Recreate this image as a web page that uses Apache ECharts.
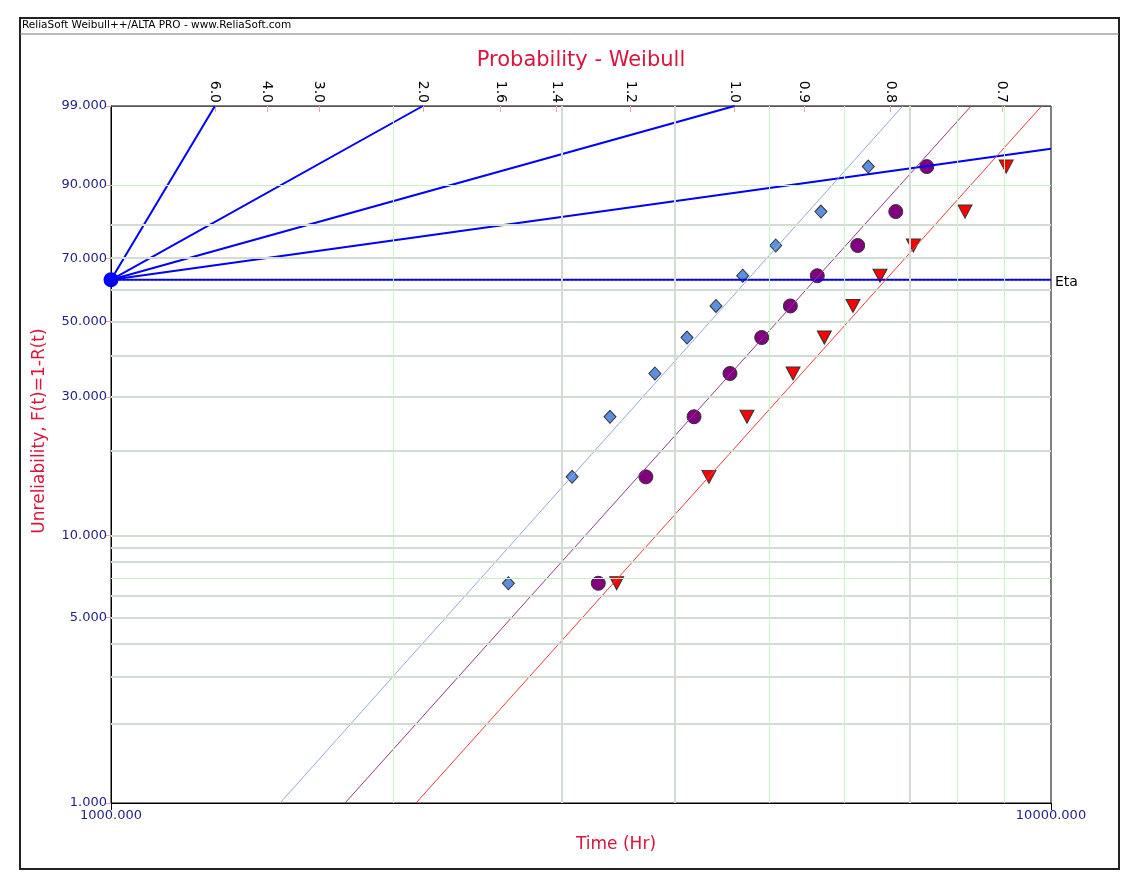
<!DOCTYPE html>
<html>
<head>
<meta charset="utf-8">
<script src="https://cdn.jsdelivr.net/npm/echarts@6/dist/echarts.min.js"></script>
<style>html,body{margin:0;padding:0;background:#fff;}#c{width:1140px;height:890px;}</style>
</head>
<body>
<div id="c"></div>
<script>
// ---- data ----
const probPct = [6.7, 16.2, 25.9, 35.5, 45.2, 54.8, 64.5, 74.1, 83.8, 93.3];
const timesBlue = [2647, 3094, 3395, 3790, 4100, 4401, 4699, 5095, 5692, 6392];
const timesPurple = [3299, 3707, 4171, 4555, 4923, 5281, 5641, 6228, 6837, 7376];
const timesRed = [3451, 4326, 4749, 5316, 5739, 6157, 6578, 7138, 8100, 8960];
// fitted lines: time at F=1% and F=99%
const fitBlue = [1513, 6955];
const fitPurple = [1774, 8222];
const fitRed = [2111, 9775];
// axis ranges / ticks
const timeRange = [1000, 10000];
const probRange = [1, 99];
const probLabels = [1, 5, 10, 30, 50, 70, 90, 99];
const gridProbGray = [2, 3, 4, 5, 6, 8, 9, 10, 20, 30, 40, 50, 60, 70, 80];
const gridProbGreen = [7, 90];
const gridTimeGray = [3000, 4000, 7000];
const gridTimeGreen = [2000, 5000, 6000, 8000, 9000];
const betaTicks = [6.0, 4.0, 3.0, 2.0, 1.6, 1.4, 1.2, 1.0, 0.9, 0.8, 0.7];
const betaLines = [6.0, 2.0, 1.0, 0.5];
const etaTime = 1000;
const etaProb = 63.2;

// ---- Weibull paper transforms ----
const tx = t => Math.log10(t);
const ty = p => Math.log(-Math.log(1 - p / 100));
const invY = v => (1 - Math.exp(-Math.exp(v))) * 100;
const xMin = tx(timeRange[0]), xMax = tx(timeRange[1]);
const yMin = ty(probRange[0]), yMax = ty(probRange[1]);
const y0 = ty(etaProb);

function betaX(beta) { return tx(etaTime) + (yMax - y0) / beta / Math.LN10; }
function betaLineEnd(beta) {
  const xe = betaX(beta);
  if (xe <= xMax) return [xe, yMax];
  return [xMax, y0 + beta * (xMax - tx(etaTime)) * Math.LN10];
}

const FONT = 'DejaVu Sans';
const NAVY = '#1f1f86';
const CRIMSON = '#dc143c';

const gridLines = [];
gridProbGray.forEach(p => gridLines.push({yAxis: ty(p), lineStyle: {color: '#d3dcd3', width: 2, type: 'solid'}}));
gridProbGreen.forEach(p => gridLines.push({yAxis: ty(p), lineStyle: {color: '#c8f2c8', width: 1, type: 'solid'}}));
gridTimeGray.forEach(t => gridLines.push({xAxis: tx(t), lineStyle: {color: '#d3dcd3', width: 2, type: 'solid'}}));
gridTimeGreen.forEach(t => gridLines.push({xAxis: tx(t), lineStyle: {color: '#c8f2c8', width: 1, type: 'solid'}}));

const series = [];
series.push({
  type: 'line', data: [], silent: true,
  markLine: {silent: true, symbol: 'none', label: {show: false}, animation: false, data: gridLines}
});
// beta reference lines
betaLines.forEach(b => {
  series.push({
    type: 'line', symbol: 'none', silent: true, clip: false,
    lineStyle: {color: '#0000ff', width: 2},
    data: [[tx(etaTime), y0], betaLineEnd(b)]
  });
});
// Eta line
series.push({
  type: 'line', symbol: 'none', silent: true,
  lineStyle: {color: '#0a0aff', width: 2},
  data: [[xMin, y0], [xMax, y0]]
});
series.push({
  type: 'line', symbol: 'none', silent: true,
  lineStyle: {color: '#00009a', width: 1, type: [2, 2]},
  data: [[xMin, y0], [xMax, y0]]
});
// fitted lines
[[fitBlue, '#8eaade'], [fitPurple, '#8d3b8d'], [fitRed, '#ee3a3a']].forEach(([f, c]) => {
  series.push({
    type: 'line', symbol: 'none', silent: true,
    lineStyle: {color: c, width: 1},
    data: [[tx(f[0]), yMin], [tx(f[1]), yMax]]
  });
});
// data points
function pts(times) { return times.map((t, i) => [tx(t), ty(probPct[i])]); }
series.push({type: 'scatter', symbol: 'diamond', symbolSize: [12, 13],
  itemStyle: {color: '#5b8fe0', borderColor: '#333', borderWidth: 1, opacity: 1}, data: pts(timesBlue)});
series.push({type: 'scatter', symbol: 'circle', symbolSize: 14,
  itemStyle: {color: '#800080', borderColor: '#333', borderWidth: 1, opacity: 1}, data: pts(timesPurple)});
series.push({type: 'scatter', symbol: 'triangle', symbolRotate: 180, symbolSize: [14, 13],
  itemStyle: {color: '#ff0000', borderColor: '#333', borderWidth: 1, opacity: 1}, data: pts(timesRed)});
// eta origin point
series.push({type: 'scatter', symbol: 'circle', symbolSize: 15, clip: false,
  itemStyle: {color: '#0000ff', opacity: 1}, data: [[tx(etaTime), y0]]});

const option = {
  animation: false,
  backgroundColor: '#fff',
  grid: {left: 111, top: 106, right: 89, bottom: 87, show: true, borderColor: '#000', borderWidth: 1, backgroundColor: 'transparent'},
  xAxis: [
    {
      type: 'value', min: xMin, max: xMax, position: 'bottom',
      splitLine: {show: false},
      axisLine: {show: true, onZero: false, lineStyle: {color: '#000', width: 1}},
      axisTick: {show: true, customValues: [xMin, xMax], length: 7, lineStyle: {color: '#000'}},
      axisLabel: {customValues: [xMin, xMax], color: NAVY, fontFamily: FONT, fontSize: 13, margin: 6,
        formatter: v => Math.pow(10, v).toFixed(3)}
    },
    {
      type: 'value', min: xMin, max: xMax, position: 'top',
      splitLine: {show: false},
      axisLine: {show: true, onZero: false, lineStyle: {color: '#555', width: 1}},
      axisTick: {show: true, inside: true, length: 6, customValues: betaTicks.map(betaX), lineStyle: {color: '#e8a8a8'}},
      axisLabel: {customValues: betaTicks.map(betaX), rotate: 90, color: '#000', fontFamily: FONT, fontSize: 14, margin: 3,
        formatter: v => ((yMax - y0) / ((v - tx(etaTime)) * Math.LN10)).toFixed(1)}
    }
  ],
  yAxis: {
    type: 'value', min: yMin, max: yMax,
    splitLine: {show: false},
    axisLine: {show: true, onZero: false, lineStyle: {color: '#000', width: 1}},
    axisTick: {show: true, customValues: probLabels.map(ty), length: 5, lineStyle: {color: '#e8a8a8'}},
    axisLabel: {customValues: probLabels.map(ty), color: NAVY, fontFamily: FONT, fontSize: 13, margin: 4,
      formatter: v => invY(v).toFixed(3)}
  },
  graphic: [
    {type: 'rect', shape: {x: 20, y: 18, width: 1099, height: 851}, style: {fill: 'none', stroke: '#222', lineWidth: 2}, silent: true},
    {type: 'line', shape: {x1: 20, y1: 34, x2: 1119, y2: 34}, style: {stroke: '#777', lineWidth: 1}, silent: true},
    {type: 'text', left: 22, top: 20, style: {text: 'ReliaSoft Weibull++/ALTA PRO - www.ReliaSoft.com', fontFamily: FONT, fontSize: 10.5, fill: '#000'}},
    {type: 'text', x: 581, y: 61, style: {text: 'Probability - Weibull', fontFamily: FONT, fontSize: 21, fill: CRIMSON, align: 'center', verticalAlign: 'middle'}},
    {type: 'text', x: 616, y: 845, style: {text: 'Time (Hr)', fontFamily: FONT, fontSize: 17, fill: CRIMSON, align: 'center', verticalAlign: 'middle'}},
    {type: 'text', x: 40, y: 431, rotation: Math.PI / 2, style: {text: 'Unreliability, F(t)=1-R(t)', fontFamily: FONT, fontSize: 17, fill: CRIMSON, align: 'center', verticalAlign: 'middle'}},
    {type: 'text', x: 1055, y: 282, style: {text: 'Eta', fontFamily: FONT, fontSize: 14, fill: '#000', align: 'left', verticalAlign: 'middle'}}
  ],
  series: series
};
const chart = echarts.init(document.getElementById('c'), null, {renderer: 'canvas'});
chart.setOption(option);
</script>
</body>
</html>
